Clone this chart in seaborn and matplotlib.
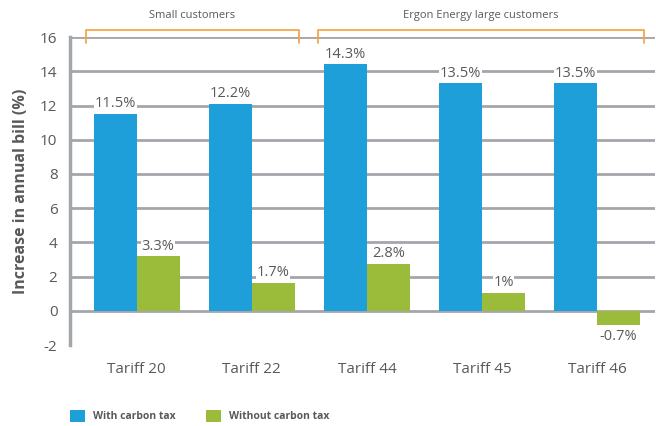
import matplotlib
matplotlib.use("Agg")
import matplotlib.pyplot as plt
import seaborn as sns
import pandas as pd

categories = ["Tariff 20", "Tariff 22", "Tariff 44", "Tariff 45", "Tariff 46"]
with_tax = [11.5, 12.1, 14.4, 13.3, 13.3]
without_tax = [3.2, 1.65, 2.75, 1.05, -0.8]
with_labels = ["11.5%", "12.2%", "14.3%", "13.5%", "13.5%"]
without_labels = ["3.3%", "1.7%", "2.8%", "1%", "-0.7%"]
series = ["With carbon tax", "Without carbon tax"]
group_labels = ["Small customers", "Ergon Energy large customers"]
yticks = [-2, 0, 2, 4, 6, 8, 10, 12, 14, 16]

df = pd.DataFrame({
    "Tariff": categories * 2,
    "Series": [series[0]] * 5 + [series[1]] * 5,
    "Value": with_tax + without_tax,
})

sns.set_theme(style="white")
plt.rcParams["font.family"] = ["Open Sans", "DejaVu Sans"]
plt.rcParams["axes.unicode_minus"] = False
TXT = "#595959"
GRID = "#a3a6ab"
BLUE = "#1e9fd9"
GREEN = "#9bbb3b"
ORANGE = "#f5a64a"

fig = plt.figure(figsize=(6.56, 4.26), dpi=100)
ax = fig.add_axes([0.1067, 0.19, 0.8913, 0.723])

sns.barplot(data=df, x="Tariff", y="Value", hue="Series", palette=[BLUE, GREEN],
            width=0.746, saturation=1, ax=ax, legend=False, zorder=3, linewidth=0)

ax.set_ylim(-2, 16)
ax.set_yticks(yticks)
ax.set_xlim(-0.58, 4.5)
for y in yticks:
    if y > -2:
        ax.axhline(y, color=GRID, lw=2, zorder=1)
for s in ["top", "right", "bottom"]:
    ax.spines[s].set_visible(False)
ax.spines["left"].set_color(GRID)
ax.spines["left"].set_linewidth(2.5)
ax.tick_params(axis="y", colors=GRID, length=6, width=2, labelsize=11, labelcolor=TXT, pad=3)
ax.tick_params(axis="x", length=0, labelsize=11, labelcolor=TXT, pad=12)
ax.set_xlabel("")
ax.set_ylabel("Increase in annual bill (%)", fontsize=11.5, fontweight="bold", color=TXT, labelpad=8)

bw = 0.373
for i in range(5):
    ax.text(i - bw / 2, with_tax[i] + 0.15, with_labels[i], ha="center", va="bottom",
            fontsize=10.5, color=TXT, zorder=4,
            bbox=dict(facecolor="white", edgecolor="none", pad=0.5))
    v = without_tax[i]
    if v >= 0:
        ax.text(i + bw / 2, v + 0.15, without_labels[i], ha="center", va="bottom",
                fontsize=10.5, color=TXT, zorder=4,
                bbox=dict(facecolor="white", edgecolor="none", pad=0.5))
    else:
        ax.text(i + bw / 2, v - 0.25, without_labels[i], ha="center", va="top",
                fontsize=10.5, color=TXT, zorder=4)

# group brackets
tr = ax.transAxes
for (x0, x1), lab in zip([(0.027, 0.391), (0.424, 0.981)], group_labels):
    ax.plot([x0, x0, x1, x1], [0.981, 1.023, 1.023, 0.981], color=ORANGE, lw=1.3,
            transform=tr, clip_on=False)
    ax.text((x0 + x1) / 2, 1.07, lab, transform=tr, ha="center", va="center",
            fontsize=8, color=TXT)

# legend
from matplotlib.patches import Patch
handles = [Patch(facecolor=BLUE, edgecolor="none"), Patch(facecolor=GREEN, edgecolor="none")]
fig.legend(handles, series, loc="center left", bbox_to_anchor=(0.093, 0.024), ncol=2,
           frameon=False, handlelength=1.4, handleheight=1.4, columnspacing=2.9,
           prop=dict(size=7.5, weight="bold"), labelcolor=TXT, handletextpad=0.8)

fig.savefig("out.png", dpi=100)
